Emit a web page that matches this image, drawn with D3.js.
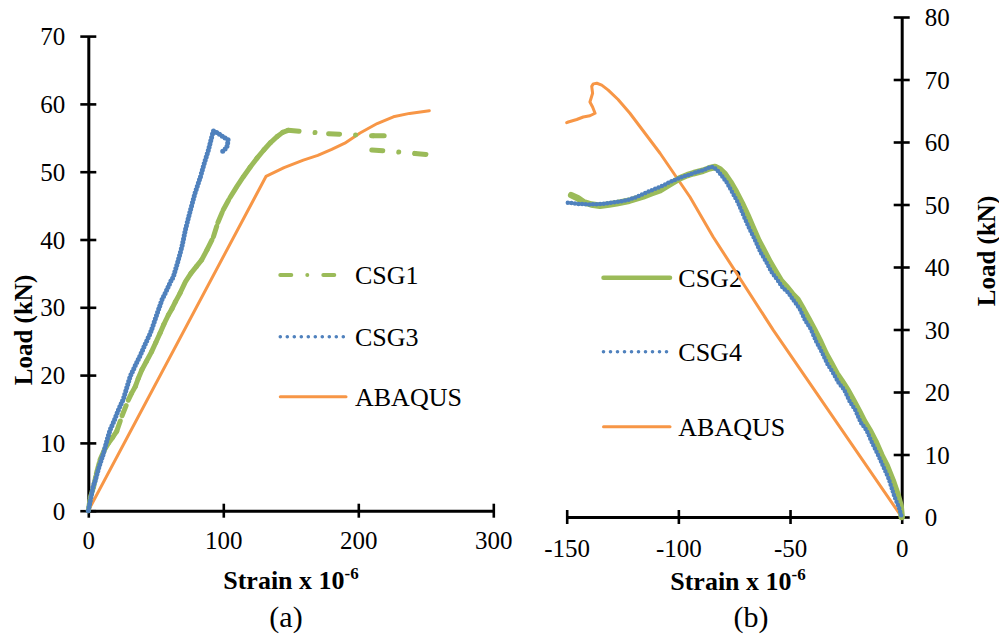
<!DOCTYPE html>
<html>
<head>
<meta charset="utf-8">
<script src="https://cdn.jsdelivr.net/npm/d3@7"></script>
<style>
  body { margin: 0; background: #fff; }
  svg { display: block; font-family: "Liberation Serif", "Times New Roman", serif; }
</style>
</head>
<body>
<svg id="chart" width="999" height="637"></svg>
<script>
// ---------- Panel (a): tension side, strain x 1e-6 vs load (kN) ----------
const ticksA_x = [0, 100, 200, 300];
const ticksA_y = [0, 10, 20, 30, 40, 50, 60, 70];

// CSG1 gauge (null splits the two recorded branches after the peak)
const csg1 = [
  [0,0],[1.5,2],[3.9,3.5],[6,5.5],[8.7,7.5],[12,9],[15,10],[18,10.8],[21,11.7],[25,14],
  [29.6,16.3],[32,17.3],[34.8,18.3],[37,19.5],[39.7,20.8],[43,22],[47,23.5],[50,24.8],
  [53.2,26.2],[56,27.5],[59.4,28.9],[62,29.8],[64.5,30.8],[68,32.1],[72,33.8],[76,35],
  [80,36],[84,37],[88,38.5],[92.7,40.4],[96,42.5],[100,44.4],[105,46.2],[110,47.8],
  [115,49.3],[120,50.7],[125,52],[130,53.2],[135,54.3],[140,55.2],[144,55.8],[148,56.1],
  [178,55.6],[211,55.3],[222,55.3],
  null,
  [210,53.2],[242,52.7],[253,52.5]
];

// CSG3 gauge
const csg3 = [
  [0,0],[2,2],[3.5,3.5],[5.2,4.5],[8,6.5],[11.3,8.5],[14,10.5],[16.1,11.9],[19,13.2],
  [22.4,14.9],[26,16.5],[31,19.8],[35,21.5],[38.7,23],[42,24.5],[46,26.2],[50,28.5],
  [54.5,31.1],[58,32.5],[61,33.8],[63,34.5],[66,36.5],[69.3,38.9],[72,41.5],[75.6,44.3],
  [79,46.8],[83,49.2],[86,51.3],[89,53.2],[91,54.8],[92.6,56],[94,55.9],[96,55.7],
  [98,55.4],[101,55],[103.7,54.7],[102.6,53.6],[98.5,52.8]
];

// ABAQUS prediction, panel (a)
const abaqusA = [
  [0,0],[131.6,49.3],[145,50.6],[159.3,51.7],[170,52.4],[180.3,53.3],[190,54.2],
  [201.3,55.7],[214,57.1],[226,58.1],[238,58.6],[252.6,59]
];

// ---------- Panel (b): compression side ----------
const ticksB_x = [-150, -100, -50, 0];
const ticksB_y = [0, 10, 20, 30, 40, 50, 60, 70, 80];

// CSG2 gauge
const csg2 = [
  [-148,51.5],[-145,51],[-142.6,50.4],[-139,50],[-135.1,49.8],[-131,50],[-127.6,50.2],
  [-122,50.6],[-115.7,51.3],[-112,51.8],[-108.2,52.3],[-104,53.2],[-99.3,54.2],[-96,54.7],
  [-93.3,55],[-89,55.4],[-86,55.8],[-83.6,56],[-81.4,55.6],[-79.3,54.9],[-76.8,53.6],
  [-74.2,52],[-71.6,50.2],[-69.1,48.3],[-66.8,46.4],[-64.1,44.2],[-61.7,42.6],[-59.1,40.8],
  [-56.8,39.4],[-54.1,37.8],[-51.8,36.9],[-49.1,35.7],[-46.7,34.8],[-44.1,33.2],[-41.8,31.7],
  [-39.1,29.9],[-36.8,28.3],[-34.1,26.2],[-31.8,24.7],[-29.1,22.9],[-26.8,21.7],[-24.1,20.2],
  [-21.8,18.7],[-19.1,16.9],[-16.8,15.3],[-14.1,13.7],[-11.8,12.1],[-9.1,9.9],[-6.8,8.3],
  [-4.1,5.9],[-1.8,3.5],[-0.5,1.8],[0,0]
];

// CSG4 gauge
const csg4 = [
  [-149.5,50.3],[-145,50.1],[-139.6,50],[-134,50.1],[-127.6,50.4],[-123,50.7],[-118.7,51.2],
  [-115,51.8],[-111.2,52.4],[-107,53],[-103.8,53.6],[-99,54.3],[-95,54.8],[-91.8,55.2],
  [-88,55.6],[-85.8,56],[-84.4,56],[-82.6,55.5],[-80.8,54.7],[-78.3,53.5],[-75.8,51.9],
  [-73.3,50.3],[-70.8,48.2],[-68.3,46.2],[-65.8,44.4],[-63.3,42.4],[-60.8,40.9],[-58.3,39.2],
  [-55.8,38],[-53.3,36.7],[-50.8,35.9],[-48.3,34.6],[-45.8,33.4],[-43.3,31.5],[-40.8,30.1],
  [-38.3,28.1],[-35.8,26.4],[-33.3,24.5],[-30.8,23.1],[-28.3,21.5],[-25.8,20.4],[-23.3,18.5],
  [-20.8,17.1],[-18.3,15.1],[-15.8,13.9],[-13.3,11.9],[-10.8,10.1],[-8.3,8.1],[-5.8,6.1],
  [-3.3,3.3],[-1.2,1.5],[0,0]
];

// ABAQUS prediction, panel (b)
const abaqusB = [
  [0,0],[-57.5,29.9],[-84.4,44.8],[-94.8,51.2],[-108.2,58.2],[-121.7,64.6],[-127,66.8],
  [-131.4,68.3],[-134.3,69.1],[-136.5,69.4],[-138.1,69.3],[-138.8,68.9],[-138.4,67.8],
  [-139.6,66.4],[-138.4,65.6],[-137.3,64.6],[-139.6,64.2],[-142.6,64],[-145.5,63.6],
  [-149.3,63.2],[-150,63.1]
];

const legendA = [
  { name: "CSG1", kind: "dashdot" },
  { name: "CSG3", kind: "dot" },
  { name: "ABAQUS", kind: "solidOrange" }
];
const legendB = [
  { name: "CSG2", kind: "solidGreen" },
  { name: "CSG4", kind: "dot" },
  { name: "ABAQUS", kind: "solidOrange" }
];

const GREEN = "#9BBB59", BLUE = "#4F81BD", ORANGE = "#F79646";
const DASHDOT = "11 16 0.01 16";

const styles = {
  dashdot:     { stroke: GREEN,  width: 4,   dash: DASHDOT, cap: "round" },
  dot:         { stroke: BLUE,   width: 3.6, dash: "0 7",   cap: "round" },
  solidGreen:  { stroke: GREEN,  width: 4.5, dash: null,    cap: "round" },
  solidOrange: { stroke: ORANGE, width: 3,   dash: null,    cap: "round" }
};

const svg = d3.select("#chart");
svg.append("rect").attr("width", 999).attr("height", 637).attr("fill", "#fff");

const xA = d3.scaleLinear().domain([0, 300]).range([88.3, 493.3]);
const yA = d3.scaleLinear().domain([0, 70]).range([510.7, 36.1]);
const xB = d3.scaleLinear().domain([-150, 0]).range([566.7, 901.7]);
const yB = d3.scaleLinear().domain([0, 80]).range([517, 17]);

function styleAxis(g, orient) {
  g.select(".domain").attr("stroke", "#000").attr("stroke-width", 3);
  g.selectAll(".tick line").attr("stroke", "#000").attr("stroke-width", 2.6);
  if (orient === "v") g.selectAll(".tick line").attr("x1", -8).attr("x2", 8);
  else g.selectAll(".tick line").attr("y1", -7).attr("y2", 7);
  g.selectAll(".tick text")
    .attr("fill", "#000")
    .style("font-family", '"Liberation Serif", "Times New Roman", serif')
    .style("font-size", "25px");
}

// ----- axes (a)
const axAy = svg.append("g").attr("transform", `translate(${xA(0)},0)`)
  .call(d3.axisLeft(yA).tickValues(ticksA_y).tickFormat(d3.format("d")).tickSize(8).tickSizeOuter(0).tickPadding(15));
styleAxis(axAy, "v");
axAy.selectAll(".tick text").attr("dy", "0.34em");

const axAx = svg.append("g").attr("transform", `translate(0,${yA(0)})`)
  .call(d3.axisBottom(xA).tickValues(ticksA_x).tickFormat(d3.format("d")).tickSize(7).tickSizeOuter(0));
styleAxis(axAx, "h");
axAx.selectAll(".tick text").attr("y", 21).attr("dy", "0.71em");

// ----- axes (b)
const axBy = svg.append("g").attr("transform", `translate(${xB(0)},0)`)
  .call(d3.axisRight(yB).tickValues(ticksB_y).tickFormat(d3.format("d")).tickSize(8).tickSizeOuter(0).tickPadding(15));
styleAxis(axBy, "v");
axBy.selectAll(".tick text").attr("dy", "0.34em");

const axBx = svg.append("g").attr("transform", `translate(0,${yB(0)})`)
  .call(d3.axisBottom(xB).tickValues(ticksB_x).tickFormat(d => d3.format("d")(d).replace("−", "-")).tickSize(7).tickSizeOuter(0));
styleAxis(axBx, "h");
axBx.selectAll(".tick text").attr("y", 22).attr("dy", "0.71em");

// ----- axis titles
function strainTitle(cx, baseline) {
  const t = svg.append("text").attr("x", cx).attr("y", baseline)
    .attr("text-anchor", "middle").attr("font-weight", "bold").attr("font-size", 26);
  t.append("tspan").text("Strain x 10");
  t.append("tspan").text("-6").attr("font-size", 17).attr("dy", -10);
}
strainTitle(291, 589);
strainTitle(738, 590);

svg.append("text").attr("transform", "translate(32,330) rotate(-90)")
  .attr("text-anchor", "middle").attr("font-weight", "bold").attr("font-size", 25).text("Load (kN)");
svg.append("text").attr("transform", "translate(995,251) rotate(-90)")
  .attr("text-anchor", "middle").attr("font-weight", "bold").attr("font-size", 25).text("Load (kN)");

svg.append("text").attr("x", 286).attr("y", 627).attr("text-anchor", "middle").attr("font-size", 30).text("(a)");
svg.append("text").attr("x", 751).attr("y", 627).attr("text-anchor", "middle").attr("font-size", 30).text("(b)");

// ----- legends
function drawLegend(items, x0, x1, tx, ys) {
  const g = svg.append("g");
  items.forEach((it, i) => {
    const s = styles[it.kind];
    g.append("line").attr("x1", x0).attr("x2", x1).attr("y1", ys[i]).attr("y2", ys[i])
      .attr("stroke", s.stroke).attr("stroke-width", s.width)
      .attr("stroke-linecap", s.cap).attr("stroke-dasharray", s.dash);
    g.append("text").attr("x", tx).attr("y", ys[i]).attr("dy", "0.34em")
      .attr("font-size", 26).text(it.name);
  });
}
drawLegend(legendA, 280.3, 346, 355, [275, 336.7, 396.7]);
drawLegend(legendB, 603.5, 670, 678.3, [277.7, 351.7, 426.7]);

// ----- series
const lineA = d3.line().x(d => xA(d[0])).y(d => yA(d[1]));
const lineB = d3.line().x(d => xB(d[0])).y(d => yB(d[1]));

function drawPath(data, line, s) {
  svg.append("path").datum(data).attr("d", line)
    .attr("fill", "none").attr("stroke", s.stroke).attr("stroke-width", s.width)
    .attr("stroke-linecap", s.cap).attr("stroke-linejoin", "round")
    .attr("stroke-dasharray", s.dash);
}

// dash pattern restarts on each segment, so densely sampled parts read as solid
function drawSegments(data, line, s) {
  const segs = d3.pairs(data).filter(([a, b]) => a && b);
  svg.append("g").selectAll("path").data(segs).join("path")
    .attr("d", d => line(d))
    .attr("fill", "none").attr("stroke", s.stroke).attr("stroke-width", s.width)
    .attr("stroke-linecap", s.cap).attr("stroke-dasharray", s.dash);
}

// panel (a)
drawPath(abaqusA, lineA, styles.solidOrange);
drawSegments(csg1, lineA, Object.assign({}, styles.dashdot, { width: 5 }));
drawPath(csg3, lineA, Object.assign({}, styles.dot, { dash: "0 3.4", width: 5 }));

// panel (b)
drawPath(abaqusB, lineB, styles.solidOrange);
drawPath(csg2, lineB, Object.assign({}, styles.solidGreen, { width: 6.5 }));
drawPath(csg4, lineB, Object.assign({}, styles.dot, { dash: "0 3.6", width: 4.5 }));
</script>
</body>
</html>
